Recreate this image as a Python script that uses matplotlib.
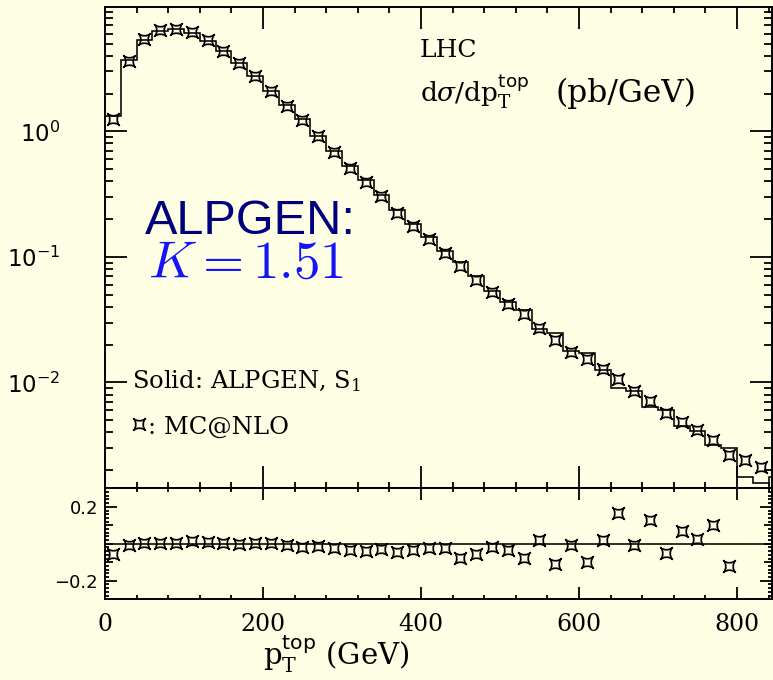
import numpy as np
import matplotlib
matplotlib.use("Agg")
import matplotlib.pyplot as plt
from matplotlib.path import Path
from matplotlib.ticker import (FixedLocator, MultipleLocator, LogLocator,
                               NullFormatter, FuncFormatter)

# ---------------------------------------------------------------- data
# top-quark pT spectrum, 20 GeV bins
bin_edges = np.arange(0, 880, 20)            # 0 ... 860 GeV
bin_centers = bin_edges[:-1] + 10

# ALPGEN (solid histogram), pb/GeV, bins 0-20 ... 840-860
alpgen = [1.33, 3.69, 5.36, 6.35, 6.55, 6.10, 5.24, 4.37, 3.51, 2.745,
          2.10, 1.61, 1.244, 0.922, 0.702, 0.533, 0.408, 0.312, 0.235, 0.182,
          0.143, 0.111, 0.0916, 0.0700, 0.0534, 0.0440, 0.0377, 0.0267, 0.0246,
          0.0177, 0.0171, 0.01255, 0.00908, 0.00853, 0.00634, 0.00605,
          0.00449, 0.00414, 0.00320, 0.00300, 0.00177, 0.00157, 0.00177]

# MC@NLO (symbols), pb/GeV, bin centres 10 ... 830
mcnlo = [1.25, 3.66, 5.39, 6.36, 6.56, 6.18, 5.29, 4.40, 3.51, 2.75,
         2.11, 1.60, 1.22, 0.912, 0.687, 0.515, 0.392, 0.303, 0.225, 0.176,
         0.140, 0.108, 0.0845, 0.066, 0.0524, 0.0425, 0.0348, 0.0272, 0.0219,
         0.0176, 0.0154, 0.0128, 0.0106, 0.00847, 0.00714, 0.00576, 0.0048,
         0.00420, 0.00350, 0.00266, 0.00242, 0.00213]

# relative difference (lower panel), bin centres 10 ... 790
ratio = [-0.057, -0.007, 0.005, 0.002, 0.002, 0.014, 0.009, 0.007, 0.0, 0.002,
         0.005, -0.007, -0.019, -0.011, -0.021, -0.034, -0.039, -0.028, -0.043,
         -0.034, -0.021, -0.025, -0.078, -0.057, -0.019, -0.034, -0.078, 0.020,
         -0.108, -0.004, -0.101, 0.020, 0.167, -0.007, 0.126, -0.048, 0.070,
         0.025, 0.103, -0.122]

# ---------------------------------------------------------------- style
BG = "#fefee4"
NAVY = "#00007f"
BLUE = "#1414f5"
SERIF = "DejaVu Serif"
SANS = "DejaVu Sans"

plt.rcParams.update({
    "font.family": SANS,
    "mathtext.fontset": "dejavusans",
    "axes.linewidth": 1.4,
    "axes.facecolor": BG,
    "figure.facecolor": BG,
    "savefig.facecolor": BG,
})

# topdrawer-like symbol: square with concave sides and spiked corners
_v = [(1, 1), (0.5, 0.5), (-0.5, 0.5), (-1, 1),
      (-0.5, 0.5), (-0.5, -0.5), (-1, -1),
      (-0.5, -0.5), (0.5, -0.5), (1, -1),
      (0.5, -0.5), (0.5, 0.5), (1, 1), (0, 0)]
_c = [Path.MOVETO] + [Path.CURVE4] * 12 + [Path.CLOSEPOLY]
STAR = Path(_v, _c)
MK = dict(ls="none", marker=STAR, ms=8.5, mfc="none", mec="k", mew=1.25)

fig = plt.figure(figsize=(7.73, 6.80), dpi=100)
ax = fig.add_axes([0.1358, 0.2819, 0.8625, 0.7076])
axr = fig.add_axes([0.1358, 0.1187, 0.8625, 0.1632])

# ---------------------------------------------------------------- main panel
ax.stairs(alpgen, bin_edges, color="k", lw=1.15, baseline=None)
ax.plot(bin_centers[:len(mcnlo)], mcnlo, **MK)

ax.set_yscale("log")
ax.set_xlim(0, 844)
ax.set_ylim(1.435e-3, 9.75)
ax.xaxis.set_major_locator(MultipleLocator(200))
ax.xaxis.set_minor_locator(MultipleLocator(40))
ax.yaxis.set_major_locator(LogLocator(10))
ax.yaxis.set_minor_locator(LogLocator(10, subs=range(2, 10)))
ax.yaxis.set_minor_formatter(NullFormatter())
ax.tick_params(which="both", direction="in", top=True, right=True,
               labelbottom=False, width=1.3)
ax.tick_params(which="major", length=15.5)
ax.tick_params(axis="y", which="minor", length=5.8)
ax.tick_params(axis="x", which="minor", length=4.3)
ax.tick_params(axis="y", which="major", labelsize=16.5, pad=32)

tr = ax.transAxes
ax.text(0.4725, 0.8957, "LHC", transform=tr, family=SERIF, fontsize=18,
        va="baseline")
ax.text(0.4725, 0.803, r"d$\sigma$/dp$_{\mathrm{T}}^{\mathsf{top}}$",
        transform=tr, family=SERIF, fontsize=19, va="baseline",
        math_fontfamily="dejavuserif")
ax.text(0.675, 0.803, "(pb/GeV)", transform=tr, family=SERIF, fontsize=22.5,
        va="baseline")
ax.text(0.060, 0.5287, "ALPGEN:", transform=tr, family="Liberation Sans",
        fontsize=35, color=NAVY, va="baseline")
ax.text(0.0645, 0.437, r"$K = 1.51$", transform=tr, fontsize=38, color=BLUE,
        va="baseline", math_fontfamily="cm")
ax.text(0.0405, 0.2086, r"Solid: ALPGEN, S$_1$", transform=tr, family=SERIF,
        fontsize=17.5, va="baseline", math_fontfamily="dejavuserif")
ax.plot([0.051], [0.1336], transform=tr, clip_on=False, **MK)
ax.text(0.0645, 0.1128, ": MC@NLO", transform=tr, family=SERIF, fontsize=17.5,
        va="baseline")

# ---------------------------------------------------------------- ratio panel
axr.axhline(0, color="k", lw=1.15)
axr.plot(bin_centers[:len(ratio)], ratio, **MK)
axr.set_xlim(0, 844)
axr.set_ylim(-0.3, 0.3)
axr.xaxis.set_major_locator(MultipleLocator(200))
axr.xaxis.set_minor_locator(MultipleLocator(40))
axr.yaxis.set_major_locator(FixedLocator([-0.2, -0.1, 0.0, 0.1, 0.2]))
axr.yaxis.set_minor_locator(MultipleLocator(0.02))
axr.yaxis.set_major_formatter(FuncFormatter(
    lambda v, _: f"{v:.1f}".replace("-", "\u2212") if abs(abs(v) - 0.2) < 1e-6 else ""))
axr.tick_params(which="both", direction="in", top=True, right=True, width=1.3)
axr.tick_params(which="major", length=8.5)
axr.tick_params(which="minor", length=3)
axr.tick_params(axis="y", which="major", labelsize=13, pad=5)
axr.tick_params(axis="x", which="major", labelsize=17, pad=10,
                labelfontfamily=SERIF)
for v, t in zip(axr.yaxis.get_majorticklocs(), axr.yaxis.get_major_ticks()):
    if abs(v) < 0.15:
        t.tick1line.set_markersize(5.8)
        t.tick2line.set_markersize(5.8)

fig.text(0.340, 0.022, r"p$_{\mathrm{T}}^{\mathsf{top}}$ (GeV)", family=SERIF,
         fontsize=21, va="baseline", math_fontfamily="dejavuserif")

fig.savefig("out.png", dpi=100)
